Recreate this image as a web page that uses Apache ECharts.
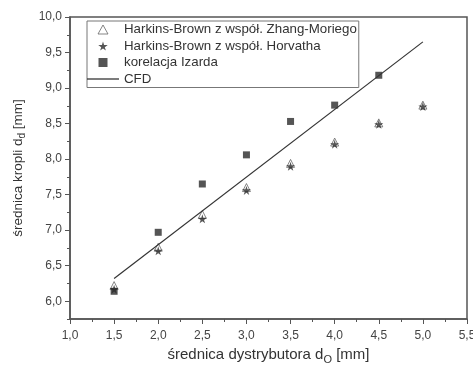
<!DOCTYPE html>
<html>
<head>
<meta charset="utf-8">
<script src="https://cdn.jsdelivr.net/npm/echarts@6/dist/echarts.min.js"></script>
<style>
  html, body { margin: 0; padding: 0; background: #fff; }
  #chart { width: 473px; height: 365px; }
</style>
</head>
<body>
<div id="chart"></div>
<script>
const dO = [1.5, 2.0, 2.5, 3.0, 3.5, 4.0, 4.5, 5.0];
const zhangMoriego = [6.22, 6.76, 7.22, 7.6, 7.94, 8.24, 8.51, 8.76];
const horvatha = [6.17, 6.71, 7.16, 7.56, 7.9, 8.21, 8.49, 8.74];
const izardaX = [1.5, 2.0, 2.5, 3.0, 3.5, 4.0, 4.5];
const izarda = [6.14, 6.97, 7.65, 8.06, 8.53, 8.76, 9.18];
const cfdX = [1.5, 5.0];
const cfd = [6.32, 9.65];
const yLabels = [6.0, 6.5, 7.0, 7.5, 8.0, 8.5, 9.0, 9.5, 10.0];

const names = [
  'Harkins-Brown z współ. Zhang-Moriego',
  'Harkins-Brown z współ. Horvatha',
  'korelacja Izarda',
  'CFD'
];

const pair = (xs, ys) => xs.map((x, i) => [x, ys[i]]);
const comma = v => v.toFixed(1).replace('.', ',');
const starPath = 'path://M50,0 L61,35 L98,35 L68,57 L79,91 L50,70 L21,91 L32,57 L2,35 L39,35 Z';
const triPath = 'path://M50,0 L100,90 L0,90 Z';
const rectPath = 'path://M0,0 L100,0 L100,100 L0,100 Z';
const linePath = 'path://M0,0 L300,0 L300,12 L0,12 Z';
const font = 'Liberation Sans';
const narrow = '"Liberation Sans Narrow", "Liberation Sans"';
const axisColor = '#555';
const markColor = '#2a2a2a';

const chart = echarts.init(document.getElementById('chart'));

chart.setOption({
  animation: false,
  textStyle: { fontFamily: font },
  grid: {
    left: 70, right: 6, top: 17, bottom: 46,
    outerBoundsMode: 'none',
    containLabel: false,
    show: true, borderColor: axisColor, borderWidth: 1.5
  },
  legend: {
    orient: 'vertical',
    left: 87, top: 21,
    data: [
      { name: names[0], icon: triPath, itemStyle: { color: '#fff', borderColor: '#666', borderWidth: 1 } },
      { name: names[1], icon: starPath, itemStyle: { color: markColor } },
      { name: names[2], icon: rectPath, itemStyle: { color: markColor } },
      { name: names[3], icon: linePath, itemStyle: { color: '#333', borderWidth: 0 } }
    ],
    symbolKeepAspect: true,
    itemWidth: 32, itemHeight: 9,
    itemGap: 3.5,
    padding: [2, 2, 2, 0],
    borderColor: '#777', borderWidth: 1,
    textStyle: { fontSize: 13.3, color: '#333', fontFamily: font }
  },
  xAxis: {
    type: 'value',
    min: 1, max: 5.5, interval: 0.5,
    name: '{a|średnica dystrybutora d}{s|O}{a| [mm]}',
    nameLocation: 'middle', nameGap: 26,
    nameTextStyle: {
      rich: {
        a: { fontSize: 15, color: '#333', fontFamily: font },
        s: { fontSize: 11, color: '#333', fontFamily: font, padding: [9, 0, 0, 0] }
      }
    },
    axisLine: { lineStyle: { color: axisColor, width: 1.5 } },
    axisTick: { show: true, length: 5, lineStyle: { color: axisColor } },
    minorTick: { show: true, splitNumber: 2, length: 3, lineStyle: { color: axisColor } },
    axisLabel: { formatter: comma, color: '#444', fontSize: 12, margin: 11 },
    splitLine: { show: false }
  },
  yAxis: [{
    type: 'value',
    min: 5.75, max: 10, interval: 0.25,
    name: '{a|średnica kropli d}{s|d}{a| [mm]}',
    nameLocation: 'middle', nameGap: 33.5,
    nameTextStyle: {
      rich: {
        a: { fontSize: 13.5, color: '#333', fontFamily: narrow },
        s: { fontSize: 10, color: '#333', fontFamily: narrow, padding: [8, 0, 0, 0] }
      }
    },
    axisLine: { show: true, lineStyle: { color: axisColor, width: 1.5 } },
    axisTick: { show: true, length: 5, customValues: yLabels, lineStyle: { color: axisColor } },
    axisLabel: { customValues: yLabels, formatter: comma, color: '#444', fontSize: 12, margin: 8 },
    splitLine: { show: false }
  }, {
    type: 'value',
    position: 'left',
    min: 5.75, max: 10, interval: 0.25,
    axisLine: { show: false },
    axisTick: { show: true, length: 3, lineStyle: { color: axisColor } },
    axisLabel: { show: false },
    splitLine: { show: false }
  }],
  series: [
    {
      name: names[0],
      type: 'scatter',
      symbol: 'triangle',
      symbolSize: 8,
      itemStyle: { color: '#fff', borderColor: '#666', borderWidth: 1 },
      data: pair(dO, zhangMoriego)
    },
    {
      name: names[1],
      type: 'scatter',
      symbol: starPath,
      symbolSize: 9,
      itemStyle: { color: markColor },
      data: pair(dO, horvatha)
    },
    {
      name: names[2],
      type: 'scatter',
      symbol: 'rect',
      symbolSize: 7,
      itemStyle: { color: markColor },
      data: pair(izardaX, izarda)
    },
    {
      name: names[3],
      type: 'line',
      symbol: 'none',
      itemStyle: { color: '#333' },
      lineStyle: { color: '#333', width: 1.2 },
      data: pair(cfdX, cfd)
    }
  ]
});
</script>
</body>
</html>
